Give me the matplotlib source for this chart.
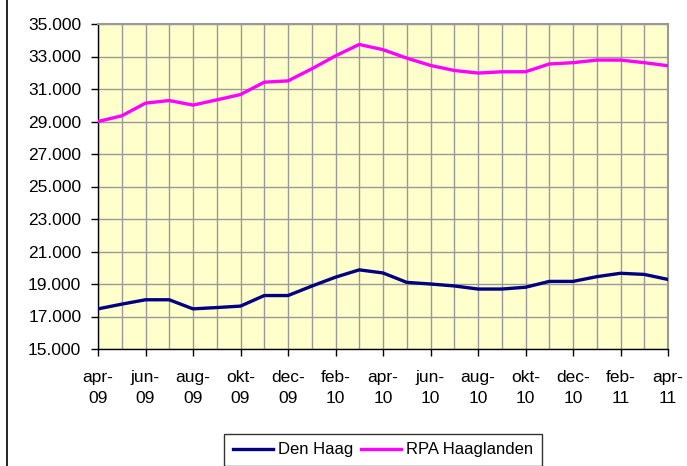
import matplotlib
matplotlib.use('Agg')
import matplotlib.pyplot as plt
from matplotlib.ticker import FuncFormatter

months = ['apr-09', 'mei-09', 'jun-09', 'jul-09', 'aug-09', 'sep-09', 'okt-09',
          'nov-09', 'dec-09', 'jan-10', 'feb-10', 'mrt-10', 'apr-10', 'mei-10',
          'jun-10', 'jul-10', 'aug-10', 'sep-10', 'okt-10', 'nov-10', 'dec-10',
          'jan-11', 'feb-11', 'mrt-11', 'apr-11']

den_haag = [17470, 17760, 18030, 18030, 17470, 17550, 17640, 18290, 18290,
            18870, 19420, 19870, 19680, 19100, 19000, 18880, 18690, 18690,
            18800, 19160, 19160, 19450, 19660, 19590, 19280]

rpa_haaglanden = [29000, 29350, 30130, 30290, 30010, 30330, 30660, 31420,
                  31500, 32240, 33040, 33740, 33420, 32900, 32450, 32140,
                  31980, 32060, 32060, 32540, 32620, 32780, 32780, 32620, 32430]

y_ticks = list(range(15000, 35001, 2000))

plt.rcParams['font.family'] = ['Liberation Sans', 'DejaVu Sans']

fig = plt.figure(figsize=(6.87, 4.66), dpi=100)
ax = fig.add_axes([98 / 687, 1 - 349 / 466, 570 / 687, 325 / 466])
ax.set_facecolor('#FFFFCC')

x = list(range(len(months)))
ax.plot(x, den_haag, color='#000080', lw=2.4, label='Den Haag', zorder=3)
ax.plot(x, rpa_haaglanden, color='#FF00FF', lw=2.4, label='RPA Haaglanden', zorder=3)

ax.set_xlim(0, len(months) - 1)
ax.set_ylim(15000, 35000)
ax.set_yticks(y_ticks)
ax.yaxis.set_major_formatter(FuncFormatter(lambda v, p: f"{int(v):,}".replace(',', '.')))

ax.set_xticks(x[::2])
ax.set_xticklabels([m.replace('-', '-\n') for m in months[::2]], linespacing=1.5)
ax.set_xticks(x, minor=True)

ax.grid(True, which='both', axis='x', color='#999999', lw=1)
ax.grid(True, which='major', axis='y', color='#999999', lw=1)
ax.set_axisbelow(True)

ax.tick_params(axis='both', which='major', labelsize=12.5, length=5, width=1, color='black', direction='out')
ax.tick_params(axis='x', which='major', pad=10)
ax.tick_params(axis='x', which='minor', length=0)
ax.tick_params(axis='y', pad=7)

for s in ['top', 'right']:
    ax.spines[s].set_color('#999999')
    ax.spines[s].set_linewidth(1.5)
for s in ['left', 'bottom']:
    ax.spines[s].set_color('black')
    ax.spines[s].set_linewidth(1)

leg = fig.legend(loc='upper center', bbox_to_anchor=(383 / 687, 1 - 434 / 466), ncol=2,
                 frameon=True, fancybox=False, fontsize=12, handlelength=2.4,
                 columnspacing=0.5, handletextpad=0.3, borderpad=0.5, borderaxespad=0)
leg.get_frame().set_edgecolor('black')
leg.get_frame().set_linewidth(1)

fig.add_artist(plt.Line2D([7 / 687, 7 / 687], [0, 1], color='black', lw=1.2,
                          transform=fig.transFigure))

fig.savefig('out.png', dpi=100)
